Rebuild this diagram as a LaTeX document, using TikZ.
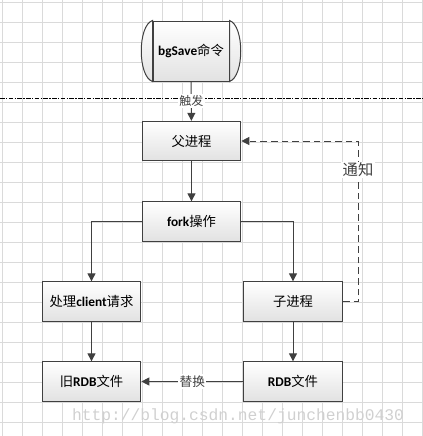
\documentclass[tikz,border=0pt]{standalone}
\usepackage{fontspec}
\setmainfont{Carlito}
\newfontfamily\cjk{Noto Sans CJK SC}
\newfontfamily\wmfont{Liberation Mono}
\newcommand{\zh}[1]{{\cjk #1}}
\usepackage{xcolor}
\usetikzlibrary{arrows.meta,calc}
\definecolor{gridgray}{RGB}{218,218,218}
\definecolor{linegray}{RGB}{64,64,64}
\definecolor{boxgray}{RGB}{226,226,226}
\definecolor{markgray}{RGB}{208,208,208}
\tikzset{
  box/.style={draw=linegray, line width=0.75pt, top color=white, bottom color=boxgray, minimum width=74pt, minimum height=29.5pt, inner sep=0pt, font=\fontsize{10}{12}\selectfont},
  tag/.style={fill=white, inner sep=1pt, text=linegray, font=\cjk\fontsize{9}{11}\selectfont},
  link/.style={linegray, line width=0.75pt},
  gridline/.style={-, gridgray, line width=0.6pt},
}

\begin{document}
\begin{tikzpicture}[x=0.75pt,y=-0.75pt,->,>={Triangle[length=6pt,width=6pt]}]
  \useasboundingbox (0,0) rectangle (423,436);
  % grid
  \foreach \g in {2,22,...,422} \draw[gridline] (\g,0) -- (\g,436);
  \foreach \g in {2,22,...,422} \draw[gridline] (0,\g) -- (423,\g);
  % separator
  \coordinate (sepL) at (0,98.5);
  \coordinate (sepR) at (423,98.5);
  \draw[-,black,line width=0.8pt,dash pattern=on 3.5pt off 1pt on 1pt off 1pt] (sepL) -- (sepR);

  % command shape
  \node[box, minimum width=57pt, minimum height=45pt] (cmd) at (191,51) {\textbf{bgSave}\zh{命令}};
  \draw[-,linegray,line width=0.75pt,top color=white,bottom color=boxgray] (cmd.north west) .. controls ($(cmd.north west)+(-15,5)$) and ($(cmd.south west)+(-15,-5)$) .. (cmd.south west) -- cycle;
  \draw[-,linegray,line width=0.75pt,top color=white,bottom color=boxgray] (cmd.north east) .. controls ($(cmd.north east)+(15,5)$) and ($(cmd.south east)+(15,-5)$) .. (cmd.south east) -- cycle;

  % boxes
  \node[box] (parent) at (191.5,141) {\zh{父进程}};
  \node[box] (fork) at (191.5,221.5) {\textbf{fork}\zh{操作}};
  \node[box] (client) at (91.5,301.5) {\zh{处理}\textbf{client}\zh{请求}};
  \node[box] (child) at (293,301.5) {\zh{子进程}};
  \node[box] (oldrdb) at (91.5,381.5) {\zh{旧}\textbf{RDB}\zh{文件}};
  \node[box] (rdb) at (293,381.5) {\textbf{RDB}\zh{文件}};
  \coordinate (turn) at (358,301.5);

  % links
  \draw[link] (cmd) -- node[tag] {触发} (parent);
  \draw[link] (parent) -- (fork);
  \draw[link] (fork.west) -| (client.north);
  \draw[link] (fork.east) -| (child.north);
  \draw[link] (client) -- (oldrdb);
  \draw[link] (child) -- (rdb);
  \draw[link] (rdb) -- node[tag, font=\cjk\fontsize{9.5}{11}\selectfont] {替换} (oldrdb);
  \draw[link, dash pattern=on 5pt off 3pt] (child.east) -- (turn) |- node[tag, pos=0.41, font=\cjk\fontsize{11.5}{13}\selectfont] {通知} (parent.east);

  % watermark
  \node[text=markgray, font=\wmfont\fontsize{12.2}{14}\selectfont] (mark) at (238,416) {http://blog.csdn.net/junchenbb0430};
\end{tikzpicture}
\end{document}
